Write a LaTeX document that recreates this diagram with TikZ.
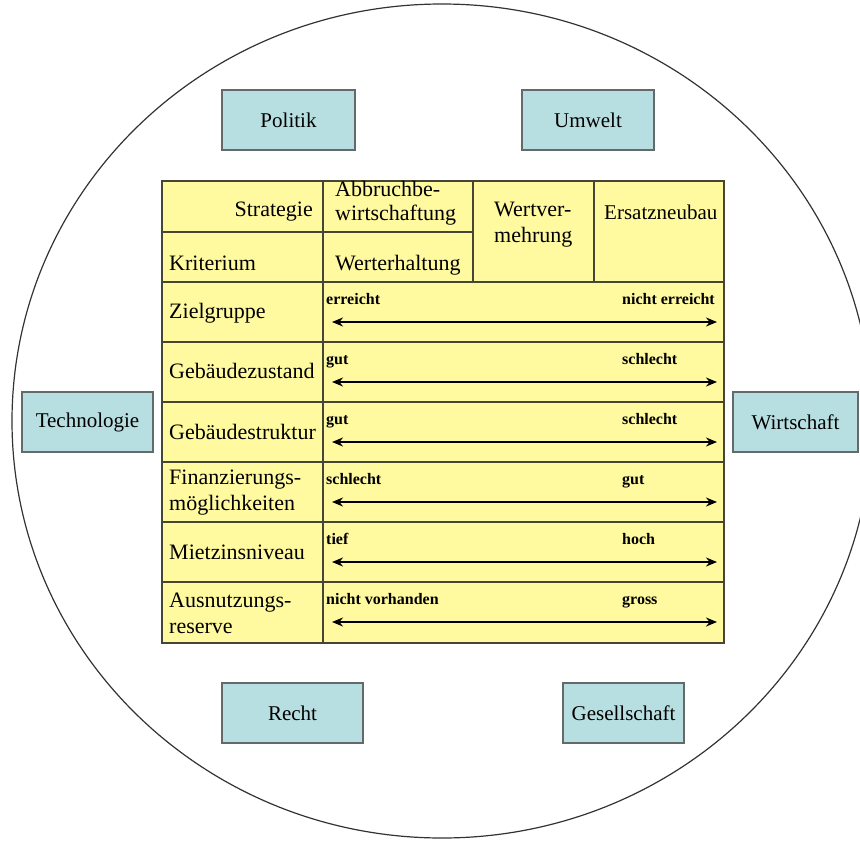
\documentclass[tikz,border=0pt]{standalone}
\usepackage{fontspec}
\setmainfont{Liberation Serif}
\usetikzlibrary{arrows.meta}
\definecolor{cellyellow}{RGB}{255,250,160}
\definecolor{boxblue}{RGB}{183,222,224}
\definecolor{gridline}{RGB}{70,70,55}
\definecolor{boxline}{RGB}{100,105,105}
\begin{document}
\begin{tikzpicture}[x=1pt,y=-1pt,
  outerbox/.style={draw=boxline, fill=boxblue, line width=1.3pt, minimum height=60pt, inner sep=0pt, font=\fontsize{21}{24}\selectfont},
  celltext/.style={inner sep=0pt, font=\fontsize{22}{26}\selectfont, align=left},
  scaletext/.style={inner sep=0pt, font=\bfseries\fontsize{16}{18}\selectfont},
  grid/.style={draw=gridline, line width=1.3pt},
  scalearrow/.style={line width=2pt, {Stealth[length=11pt,width=9pt]}-{Stealth[length=11pt,width=9pt]}}]
\useasboundingbox (0,0) rectangle (860,841);
\draw[line width=1.2pt, draw=black!80] (442,421) ellipse [x radius=430, y radius=417];

% outer boxes
\node[outerbox, minimum width=133pt] (politik) at (288.5,120) {Politik};
\node[outerbox, minimum width=132pt] (umwelt) at (588,120) {Umwelt};
\node[outerbox, minimum width=131pt] (technologie) at (87.5,422) {Technologie};
\node[outerbox, minimum width=125pt] (wirtschaft) at (795.5,422) {Wirtschaft};
\node[outerbox, minimum width=141pt] (recht) at (292.5,713) {Recht};
\node[outerbox, minimum width=121pt] (gesellschaft) at (623.5,713) {Gesellschaft};

% table
\fill[cellyellow] (162,181) rectangle (724,643);
\draw[grid] (162,181) rectangle (724,643);
\draw[grid] (323,181) -- (323,643);
\draw[grid] (473,181) -- (473,282);
\draw[grid] (594,181) -- (594,282);
\draw[grid] (162,232) -- (473,232);
\foreach \yy in {282,342,402,462,522,582} {\draw[grid] (162,\yy) -- (724,\yy);}

% header texts
\node[celltext, anchor=base east] (strategie) at (313,216) {Strategie};
\node[celltext, anchor=base west] (kriterium) at (169,270) {Kriterium};
\node[celltext, anchor=west, font=\fontsize{22}{24}\selectfont] (abbruch) at (335,203) {Abbruchbe-\\wirtschaftung};
\node[celltext, anchor=base west] (werterhaltung) at (335,270) {Werterhaltung};
\node[celltext, anchor=west, font=\fontsize{22}{26}\selectfont] (wertverm) at (494,225) {Wertver-\\mehrung};
\node[celltext, anchor=base west, font=\fontsize{21}{25}\selectfont] (ersatz) at (604,219) {Ersatzneubau};

% row labels
\node[celltext, anchor=base west] (r1) at (169,318) {Zielgruppe};
\node[celltext, anchor=base west] (r2) at (169,378) {Gebäudezustand};
\node[celltext, anchor=base west] (r3) at (169,439) {Gebäudestruktur};
\node[celltext, anchor=west, font=\fontsize{22}{26}\selectfont] (r4) at (169,493) {Finanzierungs-\\möglichkeiten};
\node[celltext, anchor=base west] (r5) at (169,559) {Mietzinsniveau};
\node[celltext, anchor=west, font=\fontsize{22}{26}\selectfont] (r6) at (169,613) {Ausnutzungs-\\reserve};

% scale labels and arrows
\foreach \top/\lft/\rgt/\nm in {282/erreicht/nicht erreicht/a,342/gut/schlecht/b,402/gut/schlecht/c,462/schlecht/gut/d,522/tief/hoch/e,582/nicht vorhanden/gross/f} {
  \node[scaletext, anchor=base west] (l\nm) at (326,\top+22) {\lft};
  \node[scaletext, anchor=base west] (h\nm) at (622,\top+22) {\rgt};
  \coordinate (s\nm) at (332,\top+40);
  \coordinate (t\nm) at (717,\top+40);
  \draw[scalearrow] (s\nm) -- (t\nm);
}
\end{tikzpicture}
\end{document}
